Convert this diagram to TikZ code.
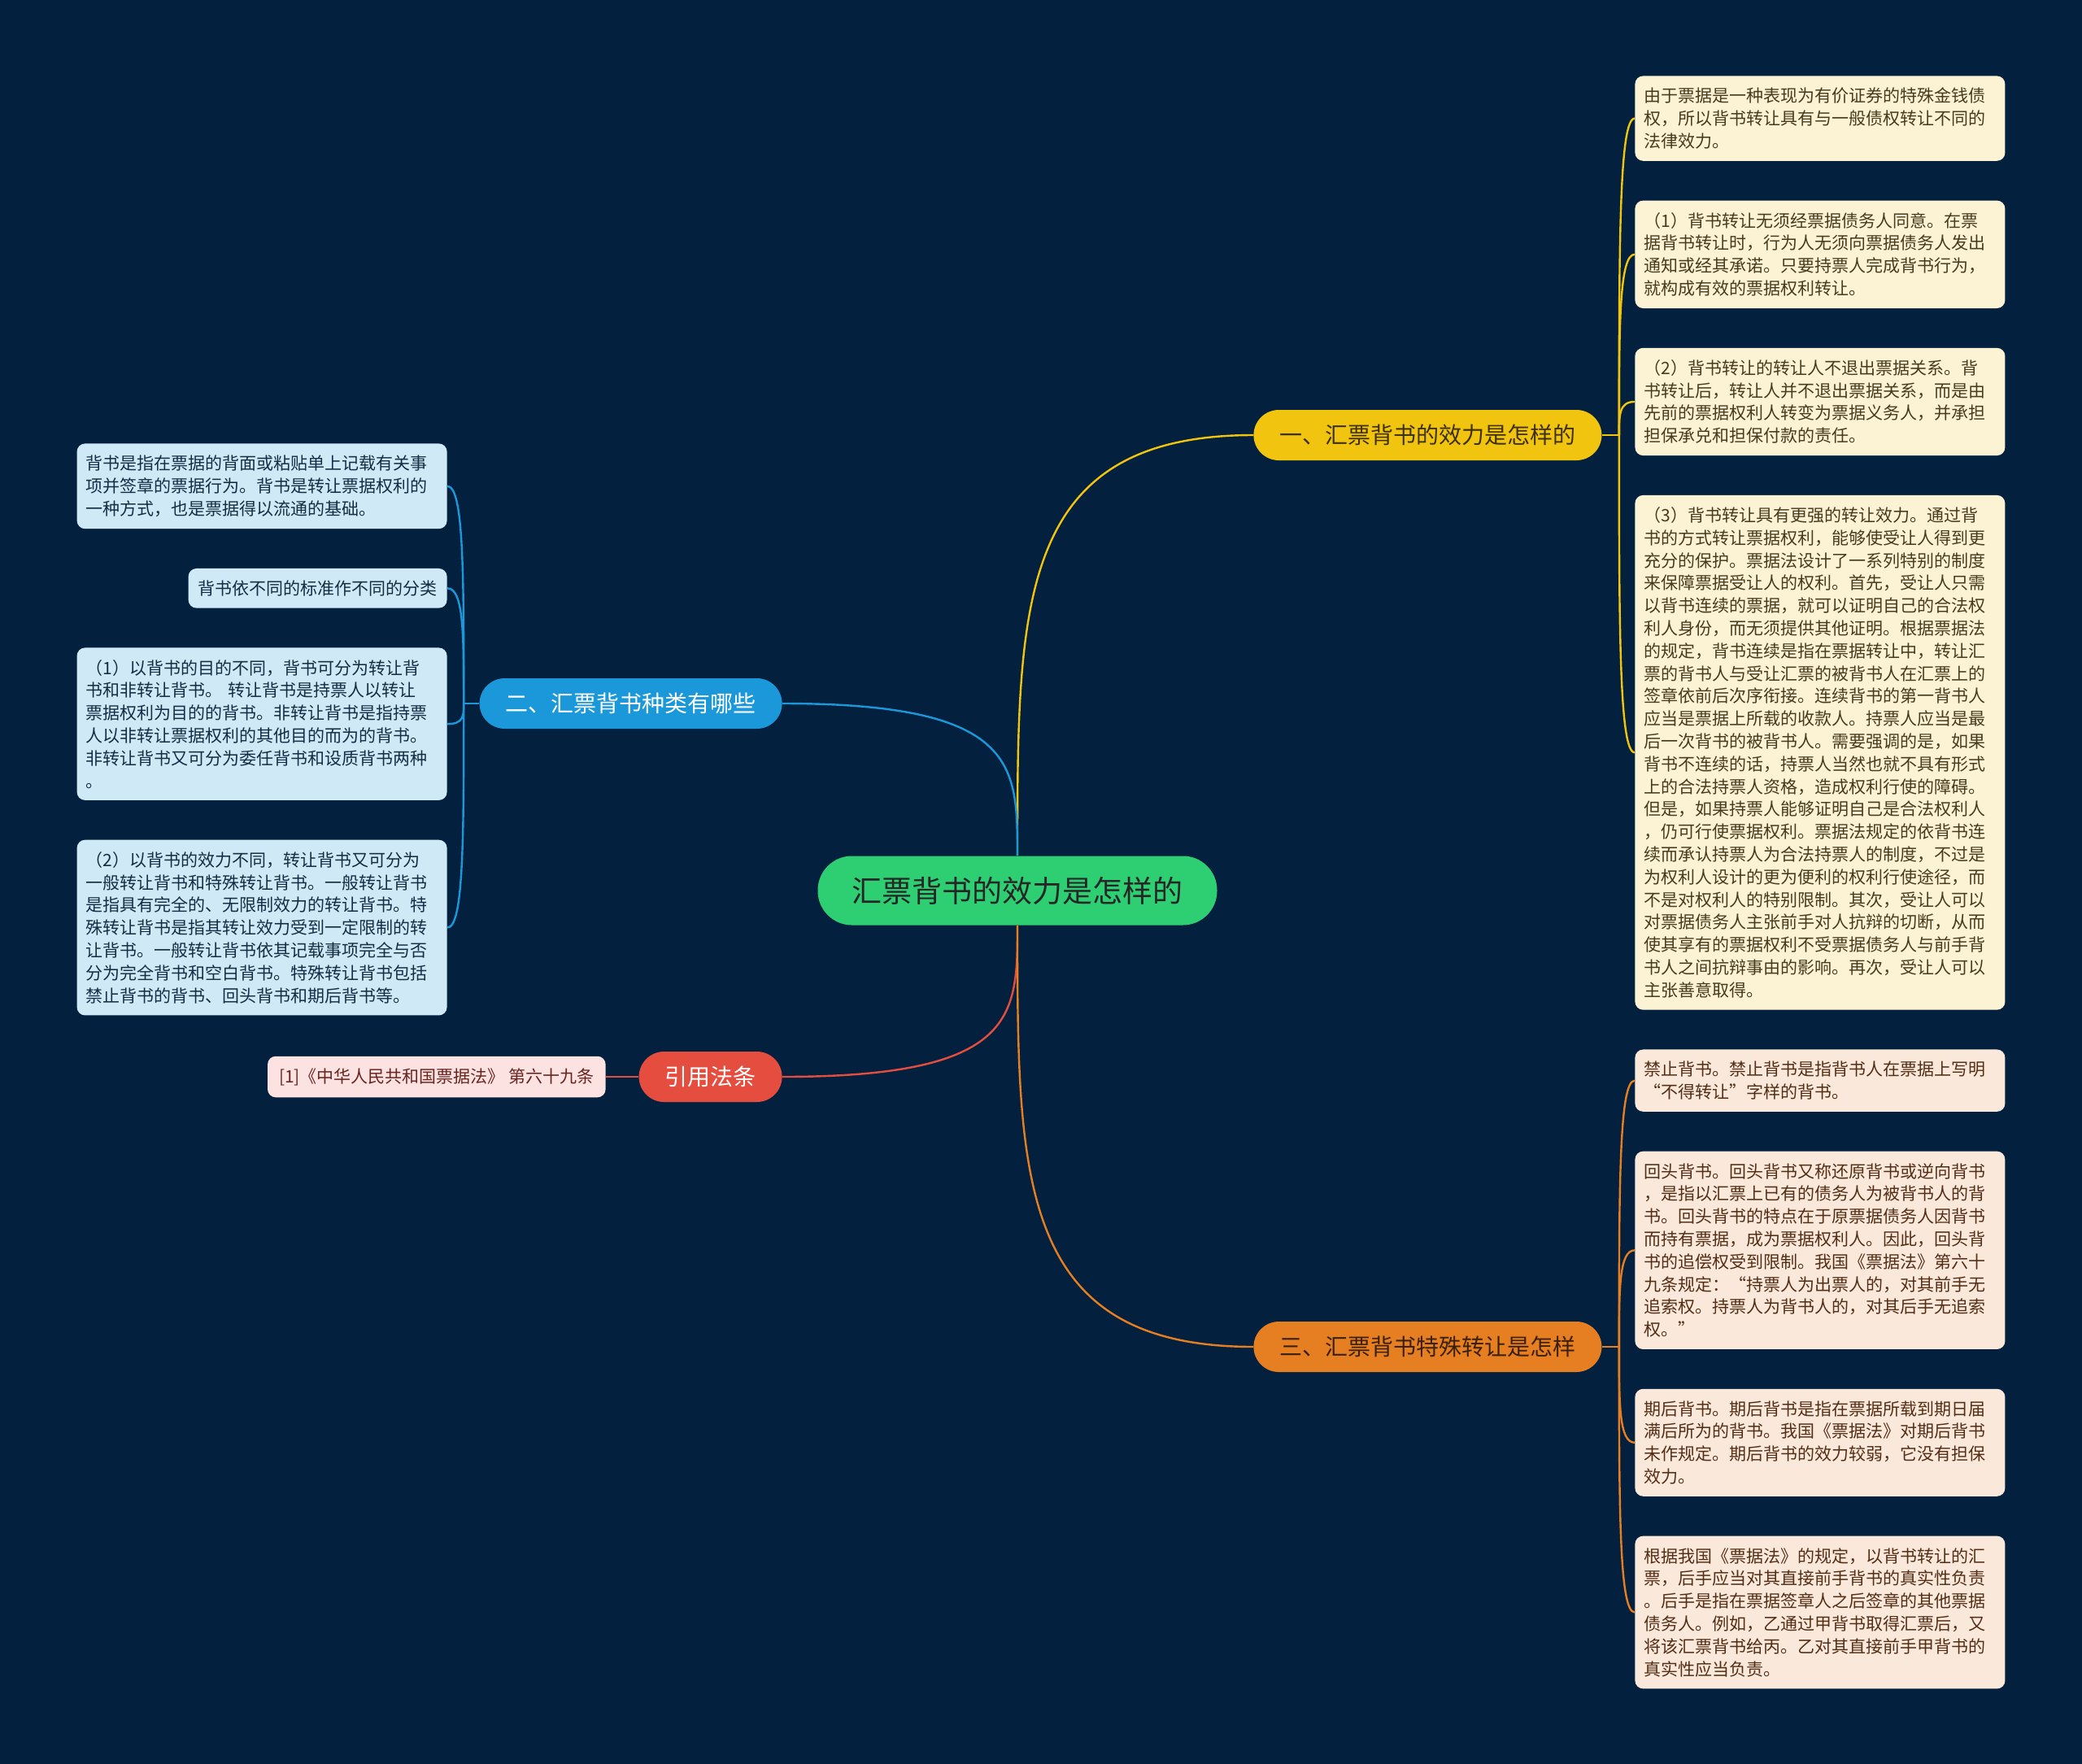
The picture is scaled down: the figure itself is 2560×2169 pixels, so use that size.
\documentclass[tikz,border=0pt]{standalone}
\usepackage{fontspec}
\setmainfont{Noto Sans CJK SC}
\usetikzlibrary{positioning,calc}
\hfuzz=20pt
\definecolor{mapbg}{RGB}{3,33,62}
\definecolor{mapgreen}{RGB}{46,206,114}
\definecolor{mapyellow}{RGB}{241,196,15}
\definecolor{mapblue}{RGB}{26,152,218}
\definecolor{mapred}{RGB}{229,77,62}
\definecolor{maporange}{RGB}{230,126,34}
\definecolor{yleaffill}{RGB}{252,243,213}
\definecolor{oleaffill}{RGB}{250,232,218}
\definecolor{bleaffill}{RGB}{207,234,246}
\definecolor{citefill}{RGB}{252,226,224}
\tikzset{
  topic/.style={
    fill=mapgreen,
    text=black!85,
    rounded corners=21pt,
    minimum height=42.5pt,
    inner xsep=21pt,
    font=\fontsize{18.5}{21}\selectfont
  },
  branch/.style={
    rounded corners=15.5pt,
    minimum height=31pt,
    inner xsep=16pt,
    font=\fontsize{14}{16}\selectfont
  },
  leaf/.style={
    rounded corners=5pt,
    align=left,
    inner xsep=5.5pt,
    inner ysep=7.3pt,
    font=\fontsize{10.5}{13.9}\selectfont
  },
  wideleaf/.style={leaf,text width=216.5pt},
  yleaf/.style={wideleaf,fill=yleaffill,text={rgb,255:red,70;green,60;blue,28}},
  oleaf/.style={wideleaf,fill=oleaffill,text={rgb,255:red,82;green,46;blue,22}},
  bleaf/.style={leaf,fill=bleaffill,text={rgb,255:red,22;green,44;blue,68}},
  citeleaf/.style={leaf,inner xsep=7pt,fill=citefill,text={rgb,255:red,104;green,36;blue,30}},
  link/.style={line width=1.2pt},
  bend to/.style={to path={(\tikztostart) .. controls ($(\tikztostart)!0.6!(\tikztostart |- \tikztotarget)$) and (\tikztostart |- \tikztotarget) .. (\tikztotarget)}}
}

\begin{document}
\begin{tikzpicture}[x=0.5pt,y=-0.5pt]
  \fill[mapbg] (0,0) rectangle (2560,2169);
  \useasboundingbox (0,0) rectangle (2560,2169);

  \node[topic] (root) at (1251,1095) {汇票背书的效力是怎样的};
  \node[branch,fill=mapyellow,text={rgb,255:red,62;green,48;blue,6},anchor=west] (b1) at (1541,535) {一、汇票背书的效力是怎样的};
  \node[branch,fill=mapblue,text=white,anchor=east] (b2) at (962,865) {二、汇票背书种类有哪些};
  \node[branch,fill=mapred,text=white,anchor=east] (b3) at (962,1324) {引用法条};
  \node[branch,fill=maporange,text={rgb,255:red,58;green,32;blue,8},anchor=west] (b4) at (1541,1656) {三、汇票背书特殊转让是怎样};

  % right column
  \node[yleaf,anchor=north west] (r1) at (2010,93) {由于票据是一种表现为有价证券的特殊金钱债\\权，所以背书转让具有与一般债权转让不同的\\法律效力。};
  \node[yleaf,below=24pt of r1] (r2) {（1）背书转让无须经票据债务人同意。在票\\据背书转让时，行为人无须向票据债务人发出\\通知或经其承诺。只要持票人完成背书行为，\\就构成有效的票据权利转让。};
  \node[yleaf,below=24pt of r2] (r3) {（2）背书转让的转让人不退出票据关系。背\\书转让后，转让人并不退出票据关系，而是由\\先前的票据权利人转变为票据义务人，并承担\\担保承兑和担保付款的责任。};
  \node[yleaf,below=24pt of r3] (r4) {（3）背书转让具有更强的转让效力。通过背\\
书的方式转让票据权利，能够使受让人得到更\\
充分的保护。票据法设计了一系列特别的制度\\
来保障票据受让人的权利。首先，受让人只需\\
以背书连续的票据，就可以证明自己的合法权\\
利人身份，而无须提供其他证明。根据票据法\\
的规定，背书连续是指在票据转让中，转让汇\\
票的背书人与受让汇票的被背书人在汇票上的\\
签章依前后次序衔接。连续背书的第一背书人\\
应当是票据上所载的收款人。持票人应当是最\\
后一次背书的被背书人。需要强调的是，如果\\
背书不连续的话，持票人当然也就不具有形式\\
上的合法持票人资格，造成权利行使的障碍。\\
但是，如果持票人能够证明自己是合法权利人\\
，仍可行使票据权利。票据法规定的依背书连\\
续而承认持票人为合法持票人的制度，不过是\\
为权利人设计的更为便利的权利行使途径，而\\
不是对权利人的特别限制。其次，受让人可以\\
对票据债务人主张前手对人抗辩的切断，从而\\
使其享有的票据权利不受票据债务人与前手背\\
书人之间抗辩事由的影响。再次，受让人可以\\
主张善意取得。};
  \node[oleaf,below=24pt of r4] (r5) {禁止背书。禁止背书是指背书人在票据上写明\\“不得转让”字样的背书。};
  \node[oleaf,below=24pt of r5] (r6) {回头背书。回头背书又称还原背书或逆向背书\\，是指以汇票上已有的债务人为被背书人的背\\书。回头背书的特点在于原票据债务人因背书\\而持有票据，成为票据权利人。因此，回头背\\书的追偿权受到限制。我国《票据法》第六十\\九条规定：“持票人为出票人的，对其前手无\\追索权。持票人为背书人的，对其后手无追索\\权。”};
  \node[oleaf,below=24pt of r6] (r7) {期后背书。期后背书是指在票据所载到期日届\\满后所为的背书。我国《票据法》对期后背书\\未作规定。期后背书的效力较弱，它没有担保\\效力。};
  \node[oleaf,below=24pt of r7] (r8) {根据我国《票据法》的规定，以背书转让的汇\\票，后手应当对其直接前手背书的真实性负责\\。后手是指在票据签章人之后签章的其他票据\\债务人。例如，乙通过甲背书取得汇票后，又\\将该汇票背书给丙。乙对其直接前手甲背书的\\真实性应当负责。};

  % left column
  \node[bleaf,text width=216.5pt,anchor=north east] (l1) at (550,545) {背书是指在票据的背面或粘贴单上记载有关事\\项并签章的票据行为。背书是转让票据权利的\\一种方式，也是票据得以流通的基础。};
  \node[bleaf,inner xsep=6pt,below=24pt of l1.south east,anchor=north east] (l2) {背书依不同的标准作不同的分类};
  \node[bleaf,text width=216.5pt,below=24pt of l2.south east,anchor=north east] (l3) {（1）以背书的目的不同，背书可分为转让背\\书和非转让背书。~转让背书是持票人以转让\\票据权利为目的的背书。非转让背书是指持票\\人以非转让票据权利的其他目的而为的背书。\\非转让背书又可分为委任背书和设质背书两种\\。};
  \node[bleaf,text width=216.5pt,below=24pt of l3.south east,anchor=north east] (l4) {（2）以背书的效力不同，转让背书又可分为\\一般转让背书和特殊转让背书。一般转让背书\\是指具有完全的、无限制效力的转让背书。特\\殊转让背书是指其转让效力受到一定限制的转\\让背书。一般转让背书依其记载事项完全与否\\分为完全背书和空白背书。特殊转让背书包括\\禁止背书的背书、回头背书和期后背书等。};
  \node[citeleaf,anchor=east] (cite) at (745,1324) {[1]《中华人民共和国票据法》 第六十九条};

  % main links
  \draw[link,mapyellow] (root.north) to[bend to] (b1.west);
  \draw[link,mapblue] (root.north) to[bend to] (b2.east);
  \draw[link,mapred] (root.south) to[bend to] (b3.east);
  \draw[link,maporange] (root.south) to[bend to] (b4.west);

  % leaf links
  \draw[link,mapyellow] (b1.east) -- ++(21,0) coordinate (yspine);
  \foreach \n in {r1,r2,r3,r4}
    \draw[link,mapyellow] (yspine) to[bend to] (\n.west);
  \draw[link,maporange] (b4.east) -- ++(21,0) coordinate (ospine);
  \foreach \n in {r5,r6,r7,r8}
    \draw[link,maporange] (ospine) to[bend to] (\n.west);
  \draw[link,mapblue] (b2.west) -- ++(-19,0) coordinate (bspine);
  \foreach \n in {l1,l2,l3,l4}
    \draw[link,mapblue] (bspine) to[bend to] (\n.east);
  \draw[link,mapred] (b3.west) -- (cite.east);
\end{tikzpicture}
\end{document}
